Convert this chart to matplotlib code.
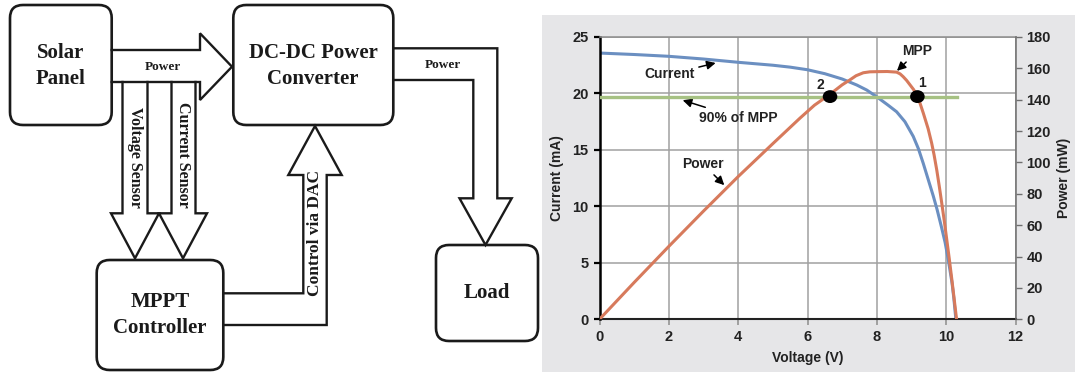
import numpy as np
import matplotlib.pyplot as plt
from matplotlib.patches import FancyBboxPatch, Rectangle, Ellipse

plt.rcParams['font.family'] = ['Liberation Sans', 'DejaVu Sans']
plt.rcParams['font.weight'] = 'bold'
plt.rcParams['axes.labelweight'] = 'bold'
plt.rcParams['font.size'] = 10

# I-V curve (V, mA)
volt_i = [0, 1, 2, 3, 4, 5, 5.5, 6.0, 6.5, 7.0, 7.42, 7.71, 8.0, 8.33,
          8.57, 8.81, 9.05, 9.2, 9.34, 9.48, 9.63, 9.74, 9.87, 9.97, 10.06,
          10.17, 10.22, 10.28]
current = [23.58, 23.45, 23.29, 23.05, 22.76, 22.5, 22.33, 22.1, 21.75, 21.28,
           20.75, 20.3, 19.7, 18.95, 18.38, 17.5, 16.2, 15.1, 13.8, 12.4,
           10.9, 9.7, 8.1, 6.8, 5.3, 3.2, 1.9, 0]

# P-V curve (V, mW)
volt_p = [0, 1, 2, 3, 4, 5, 5.78, 6.2, 6.65, 7.0, 7.22, 7.4, 7.61, 7.8, 8.0,
          8.3, 8.57, 8.67, 8.76, 8.86, 8.96, 9.06, 9.15, 9.25, 9.34, 9.48,
          9.58, 9.65, 9.73, 9.8, 9.87, 9.95, 10.01, 10.09, 10.16, 10.22, 10.3]
power = [0, 23.5, 46.5, 69, 91, 112, 128.2, 136.5, 143.5, 149.5, 152.6, 155.3,
         157.2, 157.8, 157.9, 158, 157.6, 156.5, 154.7, 152.3, 149.4, 146.5,
         143, 137.5, 131.5, 121.5, 112.5, 105, 95, 85, 74.5, 62, 52, 38.5,
         26, 15, 0]

# 90% of MPP line and the two operating points on it
p90 = 142
p90_span = [0, 10.32]
mark_v = [9.17, 6.65]
mark_lbl = ['1', '2']

fig = plt.figure(figsize=(10.75, 3.76), dpi=100)

# ---- block diagram (pixel coords, y down) ----
bg = fig.add_axes([0, 0, 1, 1])
bg.set_xlim(0, 1075)
bg.set_ylim(376, 0)
bg.axis('off')

bg.add_patch(Rectangle((541.7, 15), 533, 356.7, fc='#e6e6e8', ec='none'))

ink = '#1a1a1a'
serif = ['Liberation Serif', 'DejaVu Serif']


def box(x0, y0, x1, y1):
    bg.add_patch(FancyBboxPatch((x0, y0), x1 - x0, y1 - y0,
                                boxstyle='round,pad=0,rounding_size=13',
                                fc='white', ec=ink, lw=1.9))


def outline(pts):
    xs, ys = zip(*pts)
    bg.plot(xs, ys, color=ink, lw=1.7, solid_joinstyle='miter')


box(10, 5, 111.7, 125)
box(233.3, 5, 393.3, 125)
box(96.7, 260, 223.3, 370)
box(436, 245, 538, 341)

# power: panel -> converter
outline([(111.7, 50), (200, 50), (200, 33.3), (232, 66.7), (200, 100),
         (200, 82), (111.7, 82)])
# voltage sensor
outline([(122.5, 82), (122.5, 213.3), (111, 213.3), (135, 258.3),
         (159, 213.3), (147.5, 213.3), (147.5, 82)])
# current sensor
outline([(171.5, 82), (171.5, 213.3), (159, 213.3), (183, 258.3),
         (207, 213.3), (195.5, 213.3), (195.5, 82)])
# control via DAC
outline([(223.3, 293.3), (303.3, 293.3), (303.3, 175), (288.3, 175),
         (315, 126), (341.7, 175), (326.7, 175), (326.7, 325), (223.3, 325)])
# power: converter -> load
outline([(393.3, 48.3), (497.3, 48.3), (497.3, 198.3), (511.7, 198.3),
         (485.5, 245), (459.5, 198.3), (473.3, 198.3), (473.3, 80),
         (393.3, 80)])

big = dict(ha='center', va='center', family=serif, weight='bold', size=15,
           linespacing=1.45, color=ink)
bg.text(60.8, 66, 'Solar\nPanel', **big)
bg.text(313, 66, 'DC-DC Power\nConverter', **big)
bg.text(160, 315, 'MPPT\nController', **big)
bg.text(487, 293, 'Load', **big)

small = dict(ha='center', va='center', family=serif, weight='bold', color=ink)
bg.text(163, 67, 'Power', size=9.5, **small)
bg.text(443, 65, 'Power', size=9.5, **small)
bg.text(135, 157, 'Voltage Sensor', size=11.5, rotation=270, **small)
bg.text(183, 155, 'Current Sensor', size=11.5, rotation=270, **small)
bg.text(315, 233, 'Control via DAC', size=12.5, rotation=90, **small)

# ---- I-V / P-V chart ----
ax = fig.add_axes([599.5 / 1075, 1 - 319.3 / 376, 416 / 1075, 282.3 / 376])
ax.set_facecolor('white')
ax.plot(volt_i, current, color='#6b8fc1', lw=2.2)
ax.set_xlim(0, 12)
ax.set_ylim(0, 25)
ax.set_xticks(np.arange(0, 13, 2))
ax.set_yticks(np.arange(0, 26, 5))
ax.grid(color='#a0a0a0', lw=1.1)
ax.set_axisbelow(True)

ax2 = ax.twinx()
ax2.plot(p90_span, [p90, p90], color='#a6c183', lw=2.4)
ax2.plot(volt_p, power, color='#d77a5c', lw=2.2)
ax2.set_ylim(0, 180)
ax2.set_yticks(np.arange(0, 181, 20))
for v in mark_v:
    ax2.add_patch(Ellipse((v, p90), 0.42, 8.2, fc='black', ec='none', zorder=5))

for s in ['left', 'top', 'bottom']:
    ax2.spines[s].set_visible(False)
ax.spines['right'].set_visible(False)
ax.spines['left'].set_color('black')
ax.spines['left'].set_linewidth(1.8)
ax.spines['bottom'].set_color('#222222')
ax.spines['bottom'].set_linewidth(1.5)
ax.spines['top'].set_color('#8c8c8c')
ax.spines['top'].set_linewidth(1.1)
ax2.spines['right'].set_color('#6e6e6e')
ax2.spines['right'].set_linewidth(1.1)

ax.tick_params(axis='y', direction='out', length=4, width=1.6, color='black',
               pad=4, labelcolor='#222222', labelsize=10.5)
ax.tick_params(axis='x', direction='out', length=4, width=1.1, color='#8c8c8c',
               pad=4, labelcolor='#222222', labelsize=10.5)
ax2.tick_params(axis='y', direction='out', length=4, width=1, color='#6e6e6e',
                pad=4, labelcolor='#222222', labelsize=10.5)
for t in ax.get_xticklabels() + ax.get_yticklabels() + ax2.get_yticklabels():
    t.set_fontweight('bold')

ax.set_xlabel('Voltage (V)', size=10, color='#222222', labelpad=5)
ax.set_ylabel('Current (mA)', size=10, color='#222222', labelpad=5.5)
ax2.set_ylabel('Power (mW)', size=10, color='#222222', labelpad=4)

arrow = dict(arrowstyle='-|>', color='black', lw=1.1, mutation_scale=13,
             shrinkA=1, shrinkB=0)
note = dict(ha='center', va='center', size=10, color='#222222', weight='bold')
ax.annotate('Current', xy=(3.35, 22.7), xytext=(2.02, 21.7), arrowprops=arrow, **note)
ax.annotate('90% of MPP', xy=(2.4, 19.4), xytext=(3.99, 17.87), arrowprops=arrow, **note)
ax.annotate('Power', xy=(3.6, 11.88), xytext=(2.99, 13.74), arrowprops=arrow, **note)
ax.annotate('MPP', xy=(8.58, 22.0), xytext=(9.17, 23.73), arrowprops=arrow, **note)
ax2.text(9.3, 150.7, mark_lbl[0], **note)
ax2.text(6.38, 149.6, mark_lbl[1], **note)

fig.savefig('out.png', dpi=100)
